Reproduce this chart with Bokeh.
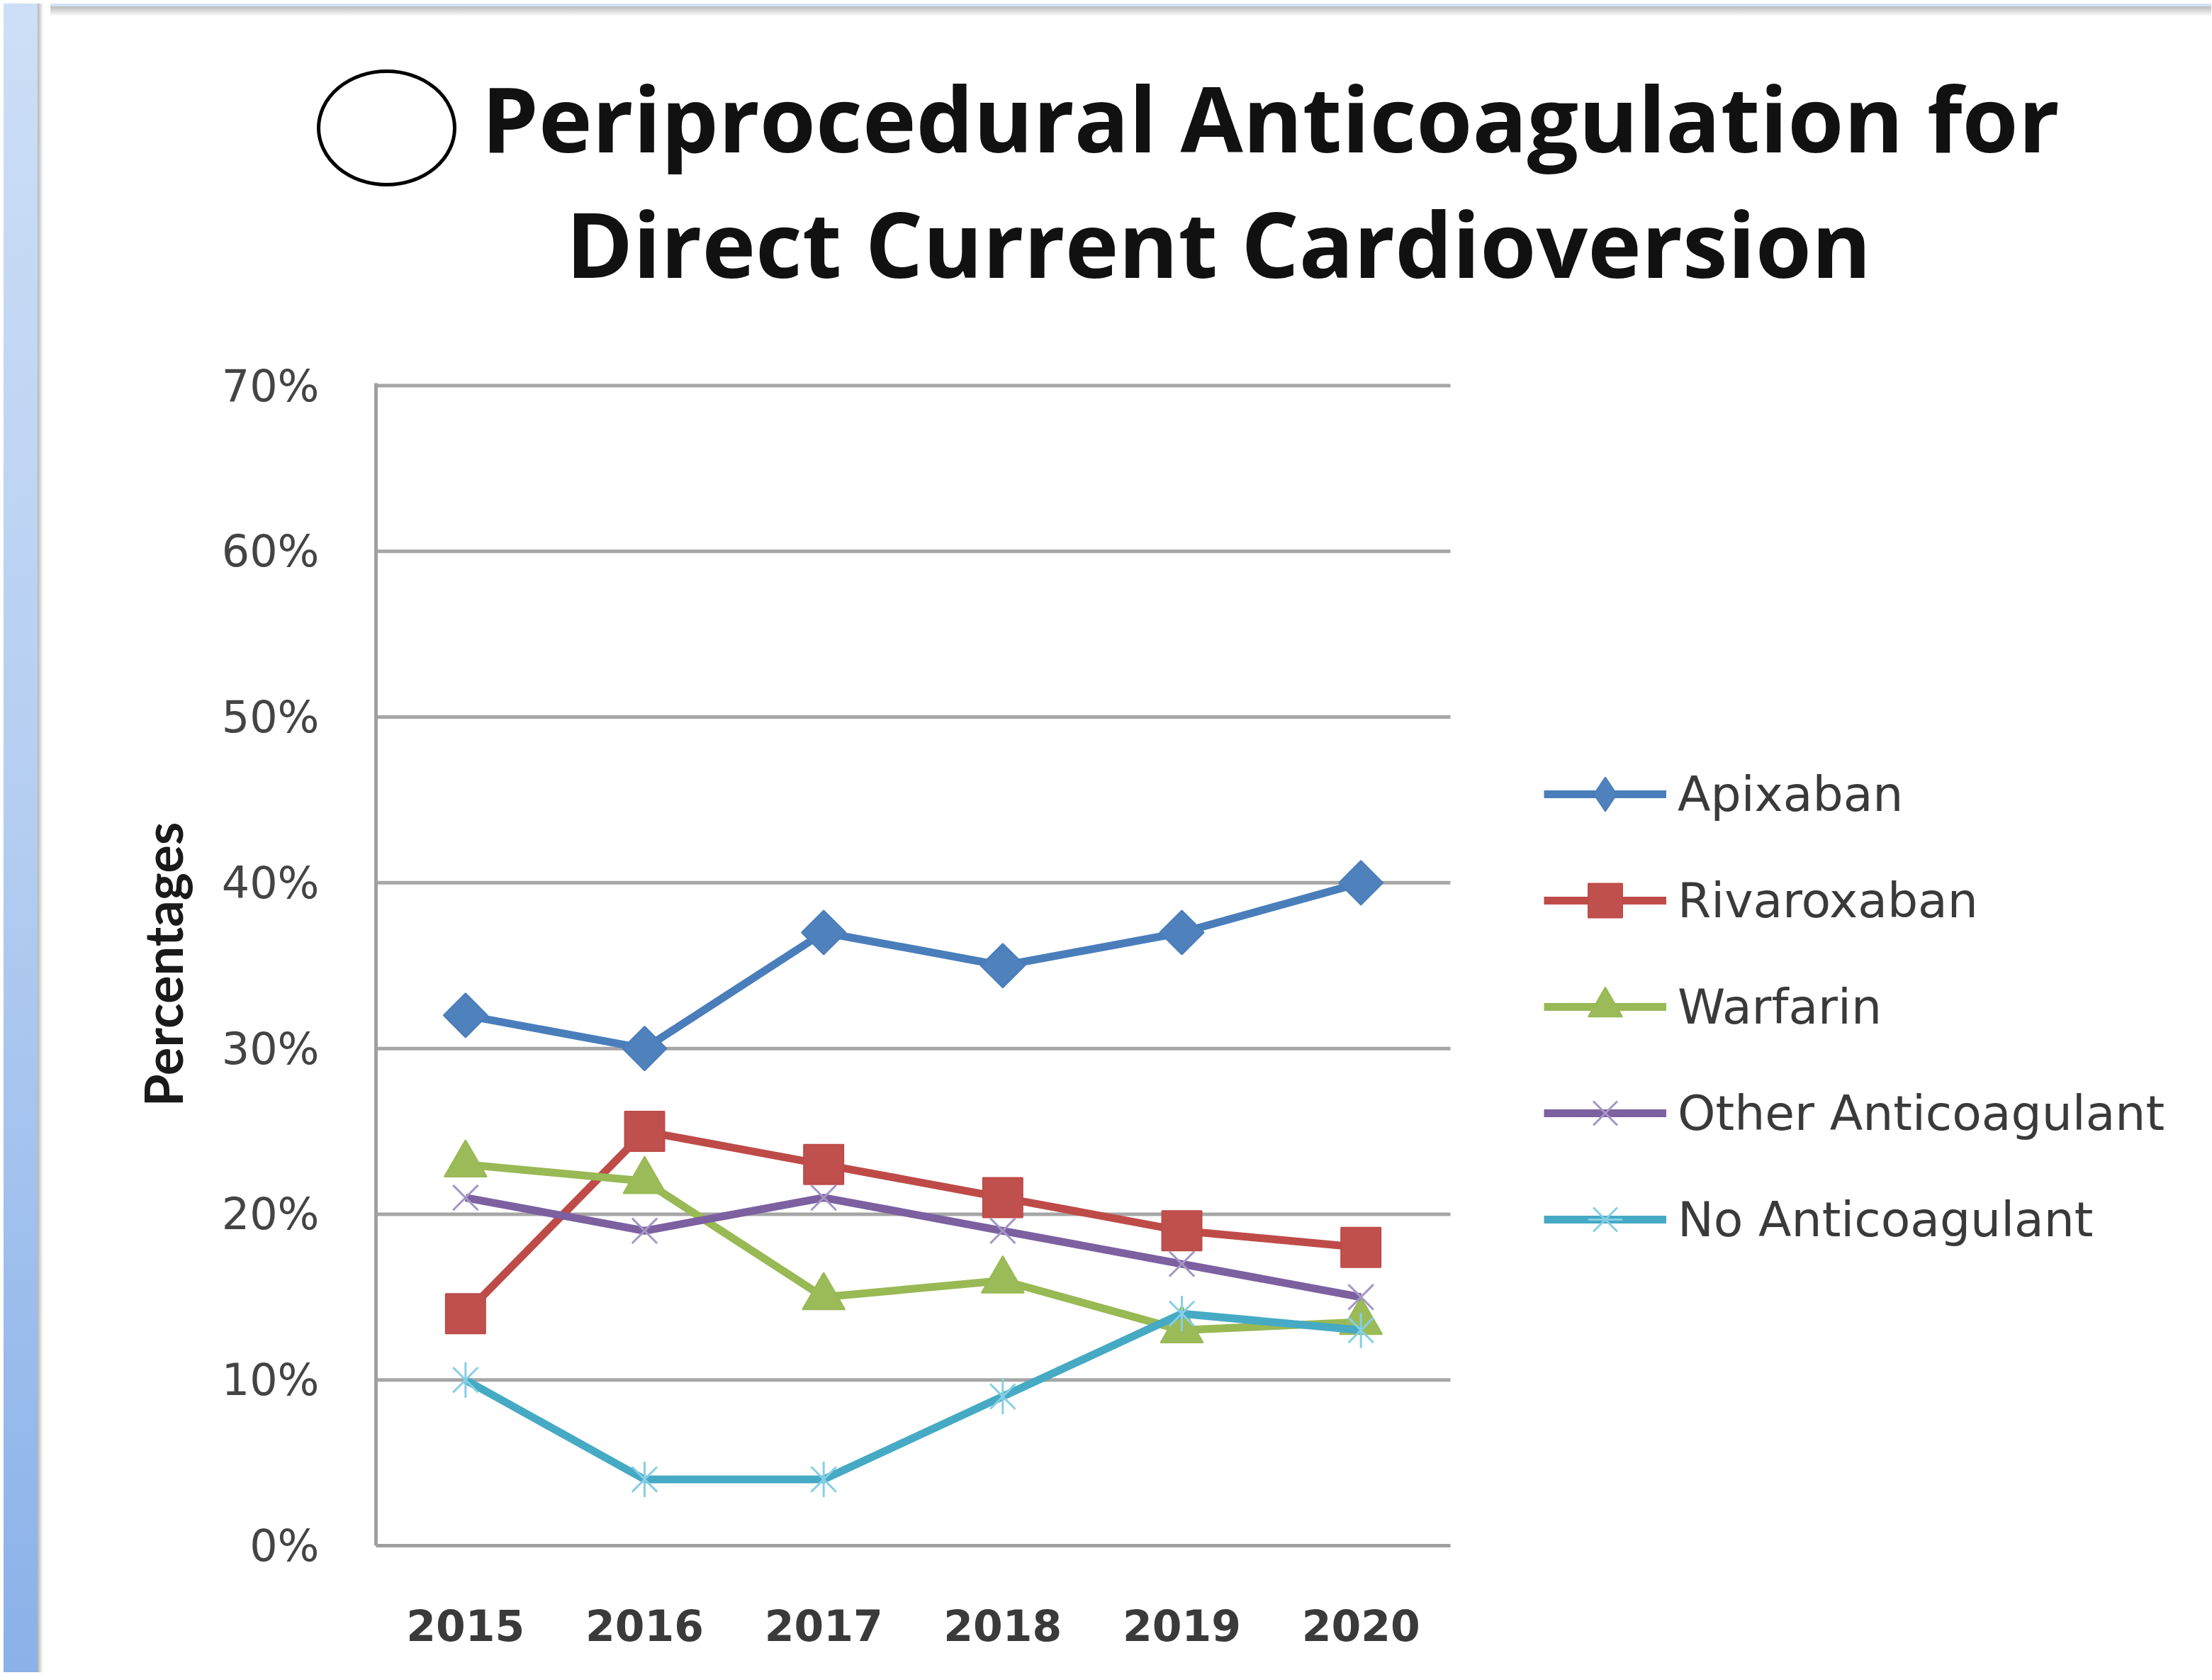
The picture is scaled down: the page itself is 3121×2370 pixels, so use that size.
import math
from bokeh.plotting import figure
from bokeh.layouts import row, column
from bokeh.models import (Legend, LegendItem, FixedTicker, PrintfTickFormatter, Range1d, Div)
from bokeh.core.properties import value
from bokeh.embed import file_html
from bokeh.resources import INLINE

# ---------------- data ----------------
years = ["2015", "2016", "2017", "2018", "2019", "2020"]
apixaban = [32, 30, 37, 35, 37, 40]
rivaroxaban = [14, 25, 23, 21, 19, 18]
warfarin = [23, 22, 15, 16, 13, 13.5]
other_ac = [21, 19, 21, 19, 17, 15]
no_ac = [10, 4, 4, 9, 14, 13]
series_names = ["Apixaban", "Rivaroxaban", "Warfarin", "Other Anticoagulant", "No Anticoagulant"]
y_ticks = [0, 10, 20, 30, 40, 50, 60, 70]
title_lines = ["Periprocedural Anticoagulation for", "Direct Current Cardioversion"]
y_label = "Percentages"

xi = list(range(len(years)))           # category positions

# ---------------- page geometry ----------------
TOTAL_W, TOTAL_H = 3105, 2354
STRIP_W = 56
SHADOW_H = 18
TITLE_H = 420
CW = TOTAL_W - STRIP_W
PH = TOTAL_H - SHADOW_H - TITLE_H
OX, OY = STRIP_W, SHADOW_H + TITLE_H

strip = Div(text="", width=STRIP_W, height=TOTAL_H,
            styles={"background": "linear-gradient(to right, rgba(0,0,0,0) 0px, rgba(0,0,0,0) 48px, "
                                  "#b4b4b4 48px, #ffffff 56px), "
                                  "linear-gradient(to bottom, #cddff6 0%, #b3cdf1 50%, #8ab1e9 100%)"})
top_shadow = Div(text="", width=CW, height=SHADOW_H,
                 styles={"background": "linear-gradient(to bottom, #d3e3f8 0px, #d3e3f8 4px, "
                                       "#bcbcbc 4px, #ffffff 18px)"})

# ---------------- title ----------------
t = figure(width=CW, height=TITLE_H, x_range=Range1d(0, CW), y_range=Range1d(TITLE_H, 0),
           output_backend="svg", toolbar_location=None, min_border=0)
t.axis.visible = False
t.grid.visible = False
t.outline_line_color = None
t.border_fill_color = "white"
TY = SHADOW_H
t.text(x=[669 - OX, 788 - OX], y=[155 - TY, 332 - TY], text=title_lines,
       text_font=value("Open Sans"), text_font_style="bold", text_font_size="128px",
       text_color="#111111", text_align="left", text_baseline="alphabetic")
t.ellipse(x=[535 - OX], y=[170 - TY], width=[192], height=[160], fill_color=None,
          line_color="black", line_width=5)

# ---------------- chart ----------------
FL, FT, FB = 520 - OX, 530 - OY, 2170 - OY
CAT_PX = 1516 / len(years)                      # pixel width of one category
frame_w = CW - FL
x_end = -0.5 + frame_w / CAT_PX
p = figure(width=CW, height=PH, x_range=Range1d(-0.5, x_end), y_range=Range1d(0, 70.15),
           output_backend="svg", toolbar_location=None,
           min_border_left=FL, min_border_right=0, min_border_top=FT,
           min_border_bottom=PH - FB)
for fig in (t, p):
    try:
        fig.frame_align = False
    except Exception:
        pass
p.outline_line_color = None
p.border_fill_color = "white"
p.grid.visible = False

# horizontal gridlines limited to the category span
grid_y = y_ticks[1:]
p.segment(x0=[xi[0] - 0.5] * len(grid_y), x1=[xi[-1] + 0.5] * len(grid_y),
          y0=grid_y, y1=grid_y, line_color="#a6a6a6", line_width=5)

p.xaxis.ticker = FixedTicker(ticks=xi)
p.xaxis.major_label_overrides = {i: y for i, y in zip(xi, years)}
p.xaxis.bounds = (xi[0] - 0.5, xi[-1] + 0.5)
p.yaxis.ticker = FixedTicker(ticks=y_ticks)
p.yaxis.formatter = PrintfTickFormatter(format="%d%%")
for ax in (p.xaxis, p.yaxis):
    ax.axis_line_color = "#a0a0a0"
    ax.axis_line_width = 5
    ax.major_tick_line_color = None
    ax.minor_tick_line_color = None
    ax.major_tick_out = 0
    ax.major_tick_in = 0
p.yaxis.major_label_text_font = "DejaVu Sans"
p.yaxis.major_label_text_font_size = "62px"
p.yaxis.major_label_text_color = "#444444"
p.yaxis.major_label_standoff = 80
p.yaxis.axis_label = y_label
p.yaxis.axis_label_text_font = "Lato"
p.yaxis.axis_label_text_font_style = "bold"
p.yaxis.axis_label_text_font_size = "74px"
p.yaxis.axis_label_text_color = "#1a1a1a"
p.yaxis.axis_label_standoff = 36
p.xaxis.major_label_text_font = "DejaVu Sans"
p.xaxis.major_label_text_font_style = "bold"
p.xaxis.major_label_text_font_size = "60px"
p.xaxis.major_label_text_color = "#3a3a3a"
p.xaxis.major_label_standoff = 89

items = []
LW = 11
l1 = p.line(xi, apixaban, line_color="#4a7ebb", line_width=LW)
m1 = p.scatter(xi, apixaban, marker="square", angle=math.pi / 4, size=44,
               fill_color="#4f81bd", line_color="#4a7ebb", line_width=2)
# legend-only diamond (the legend does not rotate markers)
m1_leg = p.scatter(xi, apixaban, marker="diamond", size=60, fill_color="#4f81bd",
                   line_color="#4a7ebb", line_width=2, visible=False)
items.append(LegendItem(label=series_names[0], renderers=[l1, m1_leg]))

l2 = p.line(xi, rivaroxaban, line_color="#be4b48", line_width=LW)
m2 = p.scatter(xi, rivaroxaban, marker="square", size=56,
               fill_color="#c0504d", line_color="#be4b48", line_width=2)
items.append(LegendItem(label=series_names[1], renderers=[l2, m2]))

l3 = p.line(xi, warfarin, line_color="#98b954", line_width=LW)
m3 = p.scatter(xi, warfarin, marker="triangle", size=60,
               fill_color="#9bbb59", line_color="#98b954", line_width=2)
items.append(LegendItem(label=series_names[2], renderers=[l3, m3]))

l4 = p.line(xi, other_ac, line_color="#7d60a0", line_width=LW)
m4 = p.scatter(xi, other_ac, marker="x", size=50, line_color="#a596c6", line_width=3)
items.append(LegendItem(label=series_names[3], renderers=[l4, m4]))

l5 = p.line(xi, no_ac, line_color="#46aac5", line_width=LW)
m5a = p.scatter(xi, no_ac, marker="x", size=50, line_color="#86cfe4", line_width=3)
m5b = p.scatter(xi, no_ac, marker="dash", angle=math.pi / 2, size=50,
                line_color="#86cfe4", line_width=3)
items.append(LegendItem(label=series_names[4], renderers=[l5, m5a, m5b]))

legend = Legend(items=items, location=(1648, 400), orientation="vertical",
                border_line_color=None, background_fill_alpha=0, padding=0, margin=0,
                spacing=30, glyph_width=173, glyph_height=120, label_height=120,
                label_standoff=16, label_text_font="DejaVu Sans",
                label_text_font_size="68px", label_text_color="#3a3a3a")
p.add_layout(legend)

page = row(strip, column(top_shadow, t, p, spacing=0), spacing=0)
open("out.html", "w").write(file_html(page, INLINE))
